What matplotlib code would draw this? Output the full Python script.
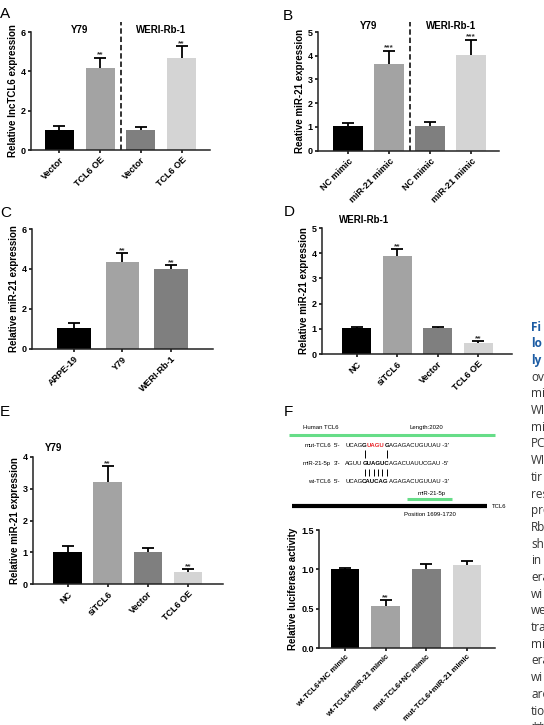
import matplotlib
matplotlib.use("Agg")
import matplotlib.pyplot as plt
import numpy as np

plt.rcParams.update({
    "font.family": ["Liberation Sans", "DejaVu Sans"],
    "font.weight": "bold",
    "axes.linewidth": 1.1, "axes.edgecolor": "#222222",
    "axes.spines.top": False, "axes.spines.right": False,
    "xtick.major.width": 1.1, "ytick.major.width": 1.1,
    "xtick.major.size": 2.5, "ytick.major.size": 2.5,
    "xtick.major.pad": 1.5, "ytick.major.pad": 1.2,
    "xtick.labelsize": 6.5, "ytick.labelsize": 6.5,
    "axes.labelsize": 7, "axes.labelweight": "bold",
})

BLACK, MID, DARK, LIGHT = "#000000", "#a3a3a3", "#7f7f7f", "#d4d4d4"
RED, GREEN, BLUE = "#e8262a", "#66dd88", "#1b5ba3"

# ---- data -----------------------------------------------------------------
a_labels = ["Vector", "TCL6 OE", "Vector", "TCL6 OE"]
a_vals = [1.03, 4.15, 1.03, 4.70]
a_err = [0.17, 0.55, 0.15, 0.60]
a_stars = ["", "**", "", "**"]

b_labels = ["NC mimic", "miR-21 mimic", "NC mimic", "miR-21 mimic"]
b_vals = [1.03, 3.67, 1.02, 4.03]
b_err = [0.14, 0.55, 0.18, 0.65]
b_stars = ["", "***", "", "***"]

c_labels = ["ARPE-19", "Y79", "WERI-Rb-1"]
c_vals = [1.03, 4.35, 3.98]
c_err = [0.27, 0.45, 0.20]
c_stars = ["", "**", "**"]

d_labels = ["NC", "siTCL6", "Vector", "TCL6 OE"]
d_vals = [1.03, 3.90, 1.03, 0.45]
d_err = [0.05, 0.25, 0.03, 0.07]
d_stars = ["", "**", "", "**"]

e_labels = ["NC", "siTCL6", "Vector", "TCL6 OE"]
e_vals = [1.02, 3.22, 1.02, 0.37]
e_err = [0.18, 0.50, 0.10, 0.10]
e_stars = ["", "**", "", "**"]

f_labels = ["wt-TCL6+NC mimic", "wt-TCL6+miR-21 mimic",
            "mut-TCL6+NC mimic", "mut-TCL6+miR-21 mimic"]
f_vals = [1.00, 0.54, 1.00, 1.06]
f_err = [0.02, 0.07, 0.07, 0.04]
f_stars = ["", "**", "", ""]

caption = [("Fi", True), ("lo", True), ("ly", True), ("ov", False), ("mi", False),
           ("WI", False), ("mi", False), ("PC", False), ("WI", False), ("tir", False),
           ("res", False), ("pro", False), ("Rb", False), ("sh", False), ("in", False),
           ("era", False), ("wi", False), ("we", False), ("tra", False), ("mi", False),
           ("era", False), ("wi", False), ("are", False), ("tio", False), ("**", False)]

W, H = 544, 725
fig = plt.figure(figsize=(W / 100, H / 100), dpi=100)


def rect(x0, x1, ytop, ybot):
    return [x0 / W, 1 - ybot / H, (x1 - x0) / W, (ybot - ytop) / H]


def bar_panel(r, labels, vals, errs, stars, colors, ymax, yticks, ylabel, xlim,
              width=0.72, fmt=None, split=None, xsize=6.5):
    ax = fig.add_axes(r)
    x = np.arange(len(vals))
    ax.bar(x, vals, width=width, color=colors, zorder=2)
    eb = ax.errorbar(x, vals, yerr=[np.zeros(len(vals)), errs], fmt="none",
                     ecolor="black", elinewidth=1.3, capsize=4.5, capthick=1.3, zorder=3)
    for cl in eb[1]:
        if np.allclose(cl.get_ydata(), vals):
            cl.set_visible(False)
    for xi, v, e, s in zip(x, vals, errs, stars):
        if s:
            ax.annotate(s, (xi, v + e), xytext=(0, -0.8), textcoords="offset points",
                        ha="center", va="bottom", fontsize=6, color="#333333", zorder=4)
    ax.set_xlim(*xlim)
    ax.set_ylim(0, ymax)
    ax.set_yticks(yticks)
    if fmt:
        ax.set_yticklabels([fmt % t for t in yticks])
    ax.set_xticks(x, labels, rotation=45, ha="right", rotation_mode="anchor",
                  fontsize=xsize)
    ax.set_ylabel(ylabel, labelpad=2)
    if split is not None:
        ax.axvline(split, ymin=0, ymax=1.085, color="#222222", lw=1.3,
                   ls=(0, (3, 1.6)), clip_on=False)
    return ax


def title(ax, s, x, y, ha="center"):
    ax.text(x, y, s, transform=ax.get_xaxis_transform() if ha == "center" else ax.transAxes,
            ha=ha, va="center", fontsize=7, fontweight="bold")


# A
axA = bar_panel(rect(31, 210, 32, 150), a_labels, a_vals, a_err, a_stars,
                [BLACK, MID, DARK, LIGHT], 6, [0, 2, 4, 6],
                "Relative lncTCL6 expression", (-0.7, 3.7), split=1.5)
title(axA, "Y79", 0.5, 1.017)
title(axA, "WERI-Rb-1", 2.5, 1.017)

# B
axB = bar_panel(rect(318, 499, 32, 150.7), b_labels, b_vals, b_err, b_stars,
                [BLACK, MID, DARK, LIGHT], 5, [0, 1, 2, 3, 4, 5],
                "Reative miR-21 expression", (-0.73, 3.68), split=1.5)
title(axB, "Y79", 0.5, 1.05)
title(axB, "WERI-Rb-1", 2.5, 1.05)

# C
axC = bar_panel(rect(32, 213, 229, 348.7), c_labels, c_vals, c_err, c_stars,
                [BLACK, MID, DARK], 6, [0, 2, 4, 6],
                "Relative miR-21 expression", (-0.87, 2.87), width=0.7)

# D
axD = bar_panel(rect(322, 512, 228, 354), d_labels, d_vals, d_err, d_stars,
                [BLACK, MID, DARK, LIGHT], 5, [0, 1, 2, 3, 4, 5],
                "Relative miR-21 expression", (-0.86, 3.83), width=0.71)
title(axD, "WERI-Rb-1", 0.09, 1.063, ha="left")

# E
axE = bar_panel(rect(33, 223, 457, 584), e_labels, e_vals, e_err, e_stars,
                [BLACK, MID, DARK, LIGHT], 4, [0, 1, 2, 3, 4],
                "Relative miR-21 expression", (-0.86, 3.87), width=0.71)
title(axE, "Y79", 0.063, 1.07, ha="left")

# F (bars)
axF = bar_panel(rect(319, 495, 530, 648), f_labels, f_vals, f_err, f_stars,
                [BLACK, MID, DARK, LIGHT], 1.5, [0, 0.5, 1.0, 1.5],
                "Relative luciferase activity", (-0.64, 3.69), width=0.7, fmt="%.1f",
                xsize=5.6)

# overlay in pixel coordinates for letters, diagram and caption
ov = fig.add_axes([0, 0, 1, 1], zorder=-1)
ov.set_xlim(0, W)
ov.set_ylim(H, 0)
ov.axis("off")

for s, x, y in [("A", 0, 14), ("B", 283, 16), ("C", 0, 213),
                ("D", 284, 212), ("E", 0, 412), ("F", 284, 412)]:
    ov.text(x, y, s, ha="left", va="center", fontsize=11, fontweight="normal")

# panel F diagram
small = dict(fontsize=4.3, fontweight="normal", va="center")
ov.text(303, 427, "Human TCL6", ha="left", **small)
ov.text(410, 427, "Length:2020", ha="left", **small)
ov.plot([289, 495], [435, 435], color=GREEN, lw=2.2, solid_capstyle="butt")

rows = [
    ("mut-TCL6", "5'-", 445, [("UCAG", "normal", "black"), ("G", "bold", "black"),
                               ("UAGU", "bold", RED), ("G", "bold", "black"),
                               ("AGAGACUGUUAU -3'", "normal", "black")]),
    ("miR-21-5p", "3'-", 463, [("AGUU", "normal", "black"), ("GUAGUC", "bold", "black"),
                                ("AGACUAUUCGAU -5'", "normal", "black")]),
    ("wt-TCL6", "5'-", 481, [("UCAG", "normal", "black"), ("CAUCAG", "bold", "black"),
                              ("AGAGACUGUUAU -3'", "normal", "black")]),
]
seq_art = {}
for name, end, y, segs in rows:
    ov.text(331, y, name, ha="right", **small)
    ov.text(334, y, end, ha="left", **small)
    prev = ov.text(345, y, segs[0][0], ha="left", fontsize=4.3, fontweight=segs[0][1],
                   color=segs[0][2], va="center")
    arts = [prev]
    for txt, wgt, col in segs[1:]:
        prev = ov.annotate(txt, xy=(1, 0), xycoords=prev, ha="left", va="bottom",
                           fontsize=4.3, fontweight=wgt, color=col)
        arts.append(prev)
    seq_art[name] = arts

fig.canvas.draw()
bb = seq_art["miR-21-5p"][1].get_window_extent()
inv = ov.transData.inverted()
(x0, _), (x1, _) = inv.transform([(bb.x0, bb.y0), (bb.x1, bb.y0)])
centers = x0 + (np.arange(6) + 0.5) * (x1 - x0) / 6
ov.vlines(centers[[0, 5]], 450, 457.5, color="black", lw=0.7)
ov.vlines(centers, 468.5, 476, color="black", lw=0.7)

ov.text(432, 493, "miR-21-5p", ha="center", **small)
ov.plot([407, 452], [499, 499], color=GREEN, lw=2.2, solid_capstyle="butt")
ov.plot([292, 487], [506, 506], color="black", lw=3.0, solid_capstyle="butt")
ov.text(492, 506, "TCL6", ha="left", **small)
ov.text(430, 514, "Position 1699-1720", ha="center", **small)

# caption column, cropped at the right edge as in the source page
for i, (s, bold) in enumerate(caption):
    ov.text(531, 327 + i * 16.7, s, ha="left", va="center", fontsize=8.5,
            family=["Open Sans", "DejaVu Sans"],
            fontweight="bold" if bold else "normal",
            color=BLUE if bold else "#333333")

fig.savefig("out.png", dpi=100)
